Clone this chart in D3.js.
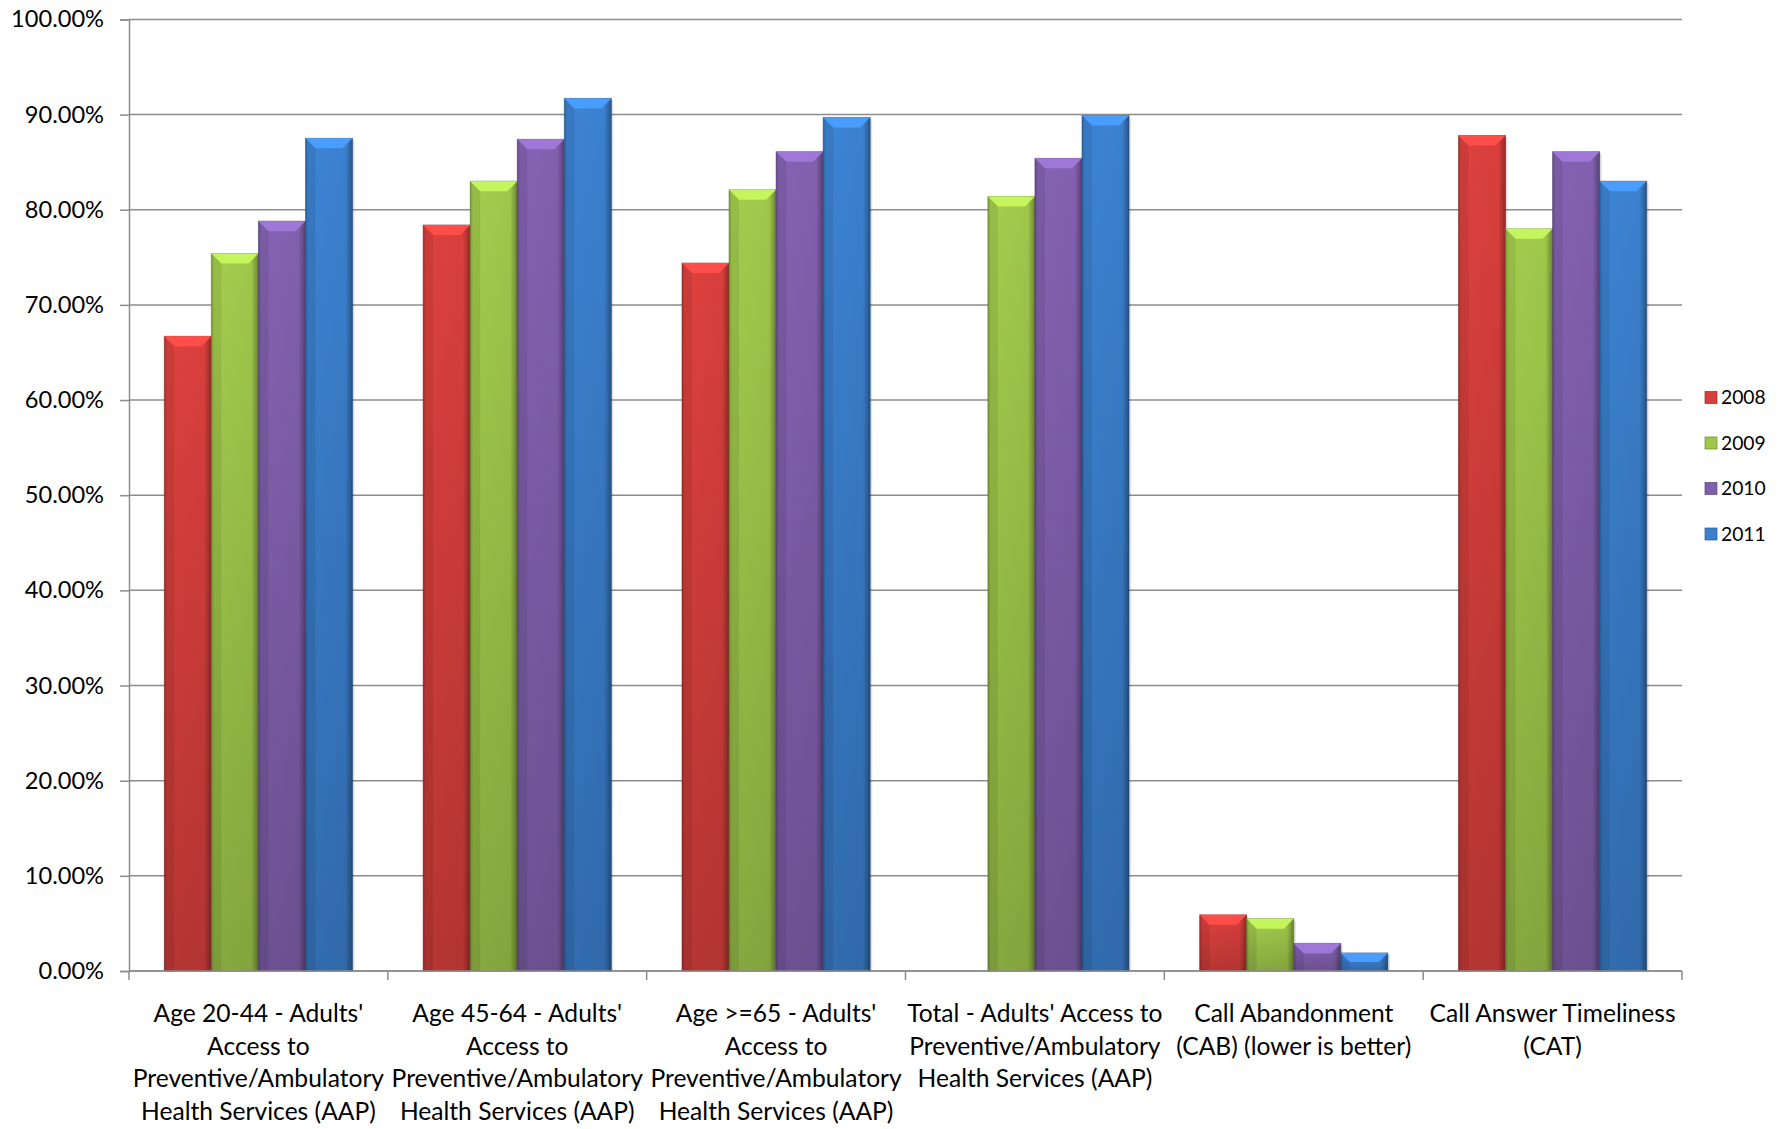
<!DOCTYPE html>
<html><head><meta charset="utf-8">
<script src="https://cdn.jsdelivr.net/npm/d3@7"></script>
<style>body{margin:0;background:#fff;} svg{display:block;font-family:Lato,"Open Sans",sans-serif;}</style>
</head><body><svg id="c" width="1786" height="1129"></svg>
<script>
const categories = [
  ["Age 20-44 - Adults'", "Access to", "Preventive/Ambulatory", "Health Services (AAP)"],
  ["Age 45-64 - Adults'", "Access to", "Preventive/Ambulatory", "Health Services (AAP)"],
  ["Age >=65 - Adults'", "Access to", "Preventive/Ambulatory", "Health Services (AAP)"],
  ["Total - Adults' Access to", "Preventive/Ambulatory", "Health Services (AAP)"],
  ["Call Abandonment", "(CAB) (lower is better)"],
  ["Call Answer Timeliness", "(CAT)"]
];
const seriesNames = ["2008", "2009", "2010", "2011"];
const s2008 = [66.7, 78.4, 74.4, null, 5.9, 87.8];
const s2009 = [75.4, 83.0, 82.1, 81.4, 5.5, 78.0];
const s2010 = [78.8, 87.4, 86.1, 85.4, 2.9, 86.1];
const s2011 = [87.5, 91.7, 89.7, 89.9, 1.9, 83.0];
const yTicks = [0,10,20,30,40,50,60,70,80,90,100];
const colors = ["#d63f3c", "#9ec64a", "#8060ad", "#3b7fcd"];
const series = [s2008, s2009, s2010, s2011];

const svg = d3.select("#c");
const L = 129, R = 1682, T = 19.4, B = 971;
const x0 = d3.scaleBand().domain(d3.range(categories.length)).range([L, R]).padding(0);
const bw = x0.bandwidth() / 5.5;
const x1 = d3.scaleBand().domain(d3.range(4)).range([0.75*bw, x0.bandwidth()-0.75*bw]).padding(0);
const y = d3.scaleLinear().domain([0,100]).range([B, T]);

const defs = svg.append("defs");
colors.forEach((c,i)=>{
  const g = defs.append("linearGradient").attr("id","v"+i).attr("x1",0).attr("y1",0).attr("x2",0).attr("y2",1);
  g.append("stop").attr("offset","0%").attr("stop-color", d3.color(c).brighter(0.1));
  g.append("stop").attr("offset","100%").attr("stop-color", d3.color(c).darker(0.45));
});
const hg = defs.append("linearGradient").attr("id","h").attr("x1",0).attr("x2",1).attr("y1",0).attr("y2",0);
hg.append("stop").attr("offset","0%").attr("stop-color","#000").attr("stop-opacity",0.18);
hg.append("stop").attr("offset","6%").attr("stop-color","#000").attr("stop-opacity",0.0);
hg.append("stop").attr("offset","85%").attr("stop-color","#000").attr("stop-opacity",0.03);
hg.append("stop").attr("offset","100%").attr("stop-color","#000").attr("stop-opacity",0.35);

// gridlines
svg.append("g").selectAll("line").data(yTicks).join("line")
  .attr("x1", L).attr("x2", R).attr("y1", d=>y(d)).attr("y2", d=>y(d))
  .attr("stroke", "#8c8c8c").attr("stroke-width", 1.5);

// y axis
const yAxis = d3.axisLeft(y).tickValues(yTicks).tickFormat(d=>d.toFixed(2)+"%").tickSize(9).tickPadding(16);
const ya = svg.append("g").attr("transform",`translate(${L},0)`).call(yAxis);
ya.select(".domain").attr("stroke","#8c8c8c").attr("stroke-width",1.5);
ya.selectAll(".tick line").attr("stroke","#8c8c8c").attr("stroke-width",1.5);
ya.selectAll(".tick text").attr("font-size",23.6).attr("fill","#000").attr("font-family","Lato");

// bars
const gBars = svg.append("g");
categories.forEach((cat, ci)=>{
  series.forEach((s, si)=>{
    const v = s[ci];
    if (v == null) return;
    const bx = x0(ci) + x1(si), w = x1.bandwidth(), by = y(v), h = y(0) - y(v);
    const g = gBars.append("g");
    g.append("rect").attr("x", bx+2).attr("y", by+2).attr("width", w).attr("height", h-2).attr("fill","#000").attr("opacity",0.12);
    g.append("rect").attr("x", bx).attr("y", by).attr("width", w).attr("height", h)
      .attr("fill", `url(#v${si})`).attr("stroke", d3.color(colors[si]).darker(1.2)).attr("stroke-opacity",0.5).attr("stroke-width",1);
    g.append("rect").attr("x", bx).attr("y", by).attr("width", w).attr("height", h).attr("fill","url(#h)");
    const b = Math.min(10, h/2);
    g.append("path").attr("d", `M${bx},${by}L${bx+w},${by}L${bx+w-b},${by+b}L${bx+b},${by+b}Z`)
      .attr("fill", d3.color(colors[si]).brighter(0.6));
    g.append("path").attr("d", `M${bx},${by}L${bx+b},${by+b}L${bx+b},${by+h}L${bx},${by+h}Z`)
      .attr("fill", "#000").attr("opacity", 0.08);
  });
});

// x axis
const xa = svg.append("g");
xa.append("line").attr("x1", L).attr("x2", R).attr("y1", B).attr("y2", B).attr("stroke","#8c8c8c").attr("stroke-width",1.5);
xa.selectAll("line.t").data(d3.range(categories.length+1)).join("line").attr("class","t")
  .attr("x1", d=>L + d*x0.bandwidth()).attr("x2", d=>L + d*x0.bandwidth())
  .attr("y1", B).attr("y2", B+9).attr("stroke","#8c8c8c").attr("stroke-width",1.5);
categories.forEach((lines, ci)=>{
  const cx = x0(ci) + x0.bandwidth()/2;
  const t = svg.append("text").attr("text-anchor","middle").attr("font-size",24.6).attr("fill","#000");
  lines.forEach((ln, li)=>{
    t.append("tspan").attr("x", cx).attr("y", 1022 + li*32.5).text(ln);
  });
});

// legend
const lg = svg.append("g");
seriesNames.forEach((n, i)=>{
  const cy = 397.5 + i*45.5;
  lg.append("rect").attr("x",1705).attr("y",cy-6).attr("width",12).attr("height",12)
    .attr("fill", colors[i]).attr("stroke", d3.color(colors[i]).darker(1)).attr("stroke-width",0.7);
  lg.append("text").attr("x",1721).attr("y",cy).attr("dy","0.35em").attr("font-size",19.3).text(n);
});
</script></body></html>
